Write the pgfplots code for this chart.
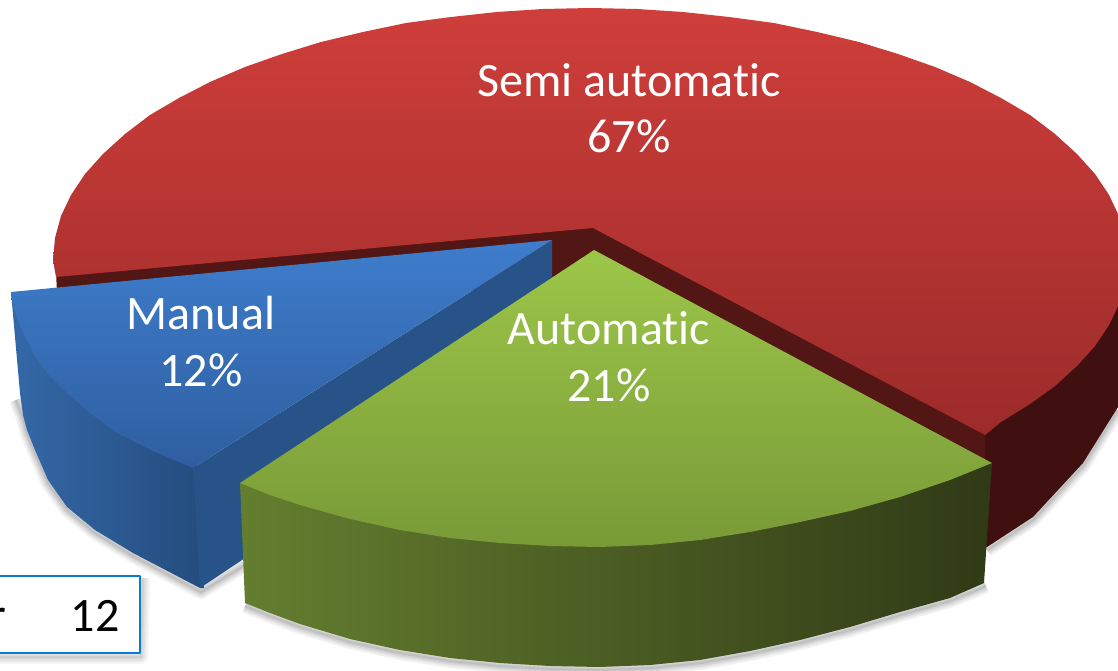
\documentclass[border=0pt]{standalone}
\usepackage{pgfplots}
\pgfplotsset{compat=1.18}
\usepackage{fontspec}
\setmainfont[Ligatures=CommonOff]{Carlito}
\definecolor{redA}{RGB}{207,62,58}
\definecolor{redB}{RGB}{155,43,42}
\definecolor{redIn}{RGB}{82,22,20}
\definecolor{redOut}{RGB}{64,16,16}
\definecolor{bluA}{RGB}{62,125,204}
\definecolor{bluB}{RGB}{47,94,160}
\definecolor{bluIn}{RGB}{39,83,136}
\definecolor{bluL}{RGB}{52,104,167}
\definecolor{bluR}{RGB}{36,76,126}
\definecolor{grnA}{RGB}{156,198,73}
\definecolor{grnB}{RGB}{121,154,55}
\definecolor{grnL}{RGB}{100,126,47}
\definecolor{grnM}{RGB}{62,80,30}
\definecolor{grnR}{RGB}{48,58,22}
\definecolor{boxb}{RGB}{10,122,212}
\begin{document}
\begin{tikzpicture}[x=1pt,y=1pt]
\path[use as bounding box] (0,0) rectangle (1118,671);
\begin{axis}[
  at={(0,0)}, anchor=south west,
  scale only axis, width=1118pt, height=671pt,
  xmin=0, xmax=1118, ymin=0, ymax=671, y dir=reverse,
  hide axis, clip=true, axis on top=false,
  every axis plot/.append style={line join=round}]
\pgfplotsinvokeforeach{14,10,7,4,2}{
  \addplot[draw=black, opacity=0.055, line width=#1pt, no marks] coordinates {(16,400)(23,418)(27,433)(35,453)(48,483)(67,510)(95,533)(133,556)(201,592)(245,565)};
  \addplot[draw=black, opacity=0.055, line width=#1pt, no marks] coordinates {(245,606)(270,616)(300,627)(350,642)(400,653)(450,661)(500,666)(550,669)(600,670)(650,668)(700,663)(750,654)(800,643)(850,630)(900,615)(950,601)(986,586)};
  \addplot[draw=black, opacity=0.055, line width=#1pt, no marks] coordinates {(987,550)(1033,520)(1083,466)(1118,410)};
  \addplot[draw=black, opacity=0.04, line width=#1pt, no marks] coordinates {(-5,657)(141,657)(143,578)};
}
% red outer wall
\addplot[draw=none, fill=redOut, no marks] coordinates {(983,425)(1001,415)(1030,397)(1055,379)(1077,359)(1095,339)(1109,318)(1119,297)(1125,275)(1135,282)(1135,350)(1118,407)(1083,463)(1033,517)(987,547)(960,555)} -- cycle;
% red inner wall
\addplot[draw=none, fill=redIn, no marks] coordinates {(56,272)(593,223)(985,430)(985,480)(595,255)(552,290)(57,292)} -- cycle;
% red top
\addplot[draw=none, top color=redA, bottom color=redB, no marks] coordinates {(593,228)(56,277)(53,260)(55,238)(61,216)(71,195)(85,174)(103,154)(125,134)(150,115)(179,98)(210,82)(245,67)(282,54)(321,42)(363,32)(406,23)(451,17)(497,12)(543,9)(590,8)(637,9)(683,12)(729,17)(774,23)(817,32)(859,42)(898,54)(935,67)(970,82)(1001,98)(1030,115)(1055,134)(1077,154)(1095,174)(1109,195)(1119,216)(1125,238)(1127,260)(1125,282)(1119,304)(1109,325)(1095,346)(1077,366)(1055,386)(1030,404)(1001,422)(985,435)} -- cycle;
% blue outer wall
\addplot[draw=none, left color=bluL, right color=bluR, no marks] coordinates {(11,292)(14,302)(21,322)(34,349)(49,370)(68,389)(91,409)(118,429)(156,448)(198,464)(204,588)(200,588)(133,553)(95,530)(67,507)(48,480)(35,450)(27,430)(23,415)(20,393)} -- cycle;
% blue inner wall
\addplot[draw=none, fill=bluIn, no marks] coordinates {(552,240)(193,468)(200,588)(245,558)(552,277)} -- cycle;
% blue top
\addplot[draw=none, top color=bluA, bottom color=bluB, no marks] coordinates {(552,240)(11,292)(13,306)(20,326)(33,353)(48,374)(67,393)(90,413)(117,433)(155,452)(193,468)} -- cycle;
% green wall
\addplot[draw=none, left color=grnL, middle color=grnM, right color=grnR, no marks] coordinates {(240,483)(270,491)(300,501)(350,515)(400,526)(450,534)(500,539)(550,542)(600,543)(650,541)(700,536)(750,528)(800,518)(850,507)(900,493)(950,476)(992,463)(984,583)(950,598)(900,612)(850,627)(800,640)(750,651)(700,660)(650,665)(600,667)(550,666)(500,663)(450,658)(400,650)(350,639)(300,624)(270,613)(245,603)} -- cycle;
% green top
\addplot[draw=none, top color=grnA, bottom color=grnB, no marks] coordinates {(594,250)(240,483)(270,495)(300,505)(350,519)(400,530)(450,538)(500,543)(550,546)(600,547)(650,545)(700,540)(750,532)(800,522)(850,511)(900,497)(950,480)(992,463)} -- cycle;
% box
\addplot[draw=boxb, fill=white, line width=1.8pt, no marks] coordinates {(-5,576)(140,576)(140,653)(-5,653)} -- cycle;
\begin{scope}
\clip (axis cs:0,560) rectangle (axis cs:150,671);
\node[anchor=base west, inner sep=0pt, font=\fontsize{48}{56}\selectfont, text=black] at (axis cs:-11,631) {r};
\end{scope}
\node[anchor=base, inner sep=0pt, font=\fontsize{48}{56}\selectfont, text=black] at (axis cs:95,631) {12};
\node[anchor=base, inner sep=0pt, font=\fontsize{48}{56}\selectfont, text=white] at (axis cs:629,97) {Semi automatic};
\node[anchor=base, inner sep=0pt, font=\fontsize{48}{56}\selectfont, text=white] at (axis cs:629,153) {67\%};
\node[anchor=base, inner sep=0pt, font=\fontsize{48}{56}\selectfont, text=white] at (axis cs:201,329) {Manual};
\node[anchor=base, inner sep=0pt, font=\fontsize{48}{56}\selectfont, text=white] at (axis cs:201,386) {12\%};
\node[anchor=base, inner sep=0pt, font=\fontsize{48}{56}\selectfont, text=white] at (axis cs:609,344) {Automatic};
\node[anchor=base, inner sep=0pt, font=\fontsize{48}{56}\selectfont, text=white] at (axis cs:609,401) {21\%};
\end{axis}
\end{tikzpicture}
\end{document}
